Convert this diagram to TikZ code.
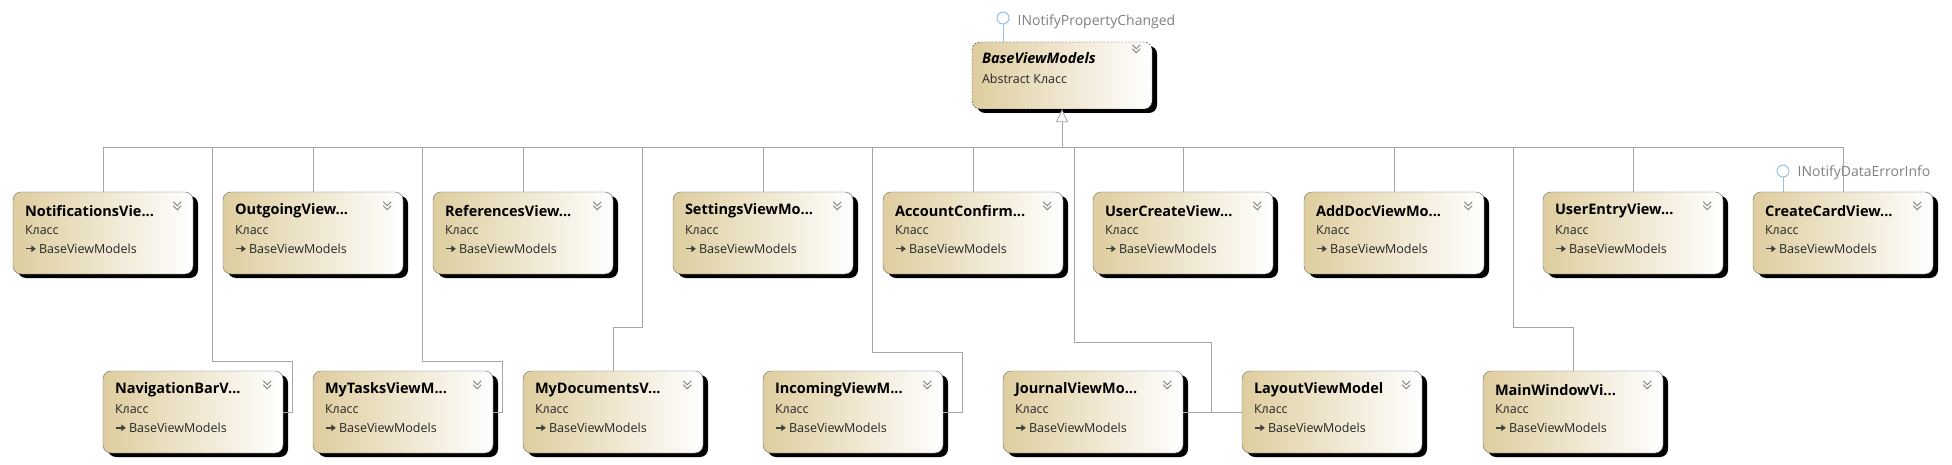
\documentclass[tikz,border=0pt]{standalone}
\usepackage{fontspec}
\setmainfont{Open Sans}
\usetikzlibrary{arrows.meta,shadows,positioning}
\definecolor{klasstan}{RGB}{222,205,158}
\definecolor{linegray}{RGB}{165,165,165}
\definecolor{edgegray}{RGB}{105,105,105}
\definecolor{lolliblue}{RGB}{150,192,228}
\definecolor{textgray}{RGB}{128,128,128}
\begin{document}
\begin{tikzpicture}[x=1pt,y=-1pt,
    klassbox/.style={draw=edgegray,rounded corners=8pt,minimum width=180pt,minimum height=82pt,
      left color=klasstan,right color=white,
      drop shadow={shadow xshift=5pt,shadow yshift=-4pt,opacity=1,fill=black}},
    klasstitle/.style={anchor=west,inner sep=0pt,font=\fontsize{14.5}{16}\selectfont\bfseries},
    klasstext/.style={anchor=west,inner sep=0pt,font=\fontsize{12.5}{14}\selectfont,text=black!85},
    chev/.style={draw=textgray,line width=0.9pt},
    conn/.style={draw=linegray,line width=0.8pt},
    inh/.style={draw=linegray,line width=0.8pt,-{Triangle[open,length=13pt,width=12pt,fill=white]}},
    lolli/.style={circle,draw=lolliblue,fill=white,line width=1pt,minimum size=12pt,inner sep=0pt},
    iface/.style={inner sep=0pt,font=\fontsize{14}{16}\selectfont,text=textgray}]
  \useasboundingbox (0,0) rectangle (1952,465);
  \tikzset{
    pics/klass/.style args={#1}{code={
      \node[klassbox] (-box) {};
      \node[klasstitle] (-name) at ([shift={(12,19)}]-box.north west) {#1};
      \node[klasstext] (-kind) at ([shift={(12,38)}]-box.north west) {Класс};
      \draw[draw=black!75,line width=1.4pt,-{Triangle[length=4.5pt,width=6.5pt]}]
        ([shift={(13,57)}]-box.north west) -- ++(10,0);
      \node[klasstext] (-base) at ([shift={(26,57)}]-box.north west) {BaseViewModels};
      \draw[chev] ([shift={(-20,10)}]-box.north east) -- ++(4,4) -- ++(4,-4)
        ([shift={(-20,14)}]-box.north east) -- ++(4,4) -- ++(4,-4);
    }},
  }

  %BASE
  \node[klassbox,draw=black!80,dash pattern=on 2pt off 1.5pt,minimum height=67pt] (base) at (1062,75.5) {};
  \node[klasstitle,font=\fontsize{14.5}{16}\selectfont\bfseries\itshape] (basename)
    at ([shift={(10,16)}]base.north west) {BaseViewModels};
  \node[klasstext] (basekind) at ([shift={(10,37)}]base.north west) {Abstract Класс};
  \draw[chev] ([shift={(-20,3)}]base.north east) -- ++(4,4) -- ++(4,-4)
    ([shift={(-20,7)}]base.north east) -- ++(4,4) -- ++(4,-4);
  \node[lolli] (ipc) at (1003,18) {};
  \node[iface,right=8pt of ipc,yshift=-4pt] (ipclabel) {INotifyPropertyChanged};
  \draw[lolliblue,line width=1pt] (ipc) -- (ipc |- base.north);

  %ROW 1
  \pic (notif) at (103,233) {klass={NotificationsVie...}};
  \pic (outgoing) at (313,233) {klass={OutgoingView...}};
  \pic (refs) at (523,233) {klass={ReferencesView...}};
  \pic (settings) at (763,233) {klass={SettingsViewMo...}};
  \pic (accconf) at (973,233) {klass={AccountConfirm...}};
  \pic (usercreate) at (1183,233) {klass={UserCreateView...}};
  \pic (adddoc) at (1394,233) {klass={AddDocViewMo...}};
  \pic (userentry) at (1633,233) {klass={UserEntryView...}};
  \pic (createcard) at (1843,233) {klass={CreateCardView...}};

  %ROW 2
  \pic (navbar) at (193,412) {klass={NavigationBarV...}};
  \pic (mytasks) at (403,412) {klass={MyTasksViewM...}};
  \pic (mydocs) at (613,412) {klass={MyDocumentsV...}};
  \pic (incoming) at (853,412) {klass={IncomingViewM...}};
  \pic (journal) at (1093,412) {klass={JournalViewMo...}};
  \pic (layout) at (1332,412) {klass={LayoutViewModel}};
  \pic (mainwin) at (1573,412) {klass={MainWindowVi...}};

  \node[lolli] (ide) at (1783,171) {};
  \node[iface,right=8pt of ide,yshift=-2pt] (idelabel) {INotifyDataErrorInfo};
  \draw[lolliblue,line width=1pt] (ide) -- (ide |- createcard-box.north);

  %CONNECTORS
  \coordinate (bus) at (1062,147);
  \foreach \k in {notif,outgoing,refs,settings,accconf,usercreate,adddoc,userentry,createcard}
    \draw[conn] (\k-box.north) |- (bus);
  \draw[conn] (navbar-box.east) -| (292,361) -| (212,147) -- (bus);
  \draw[conn] (mytasks-box.east) -| (502,361) -| (422,147) -- (bus);
  \draw[conn] (mydocs-box.north) |- (642,327) |- (bus);
  \draw[conn] (incoming-box.east) -| (962,352) -| (872,147) -- (bus);
  \draw[conn] (journal-box.east) -| (1211,342) -| (1074,147) -- (bus);
  \draw[conn] (layout-box.west) -| (1211,342);
  \draw[conn] (mainwin-box.north) |- (1513,327) |- (bus);
  \draw[inh] (bus) -- (base.south);
\end{tikzpicture}
\end{document}
